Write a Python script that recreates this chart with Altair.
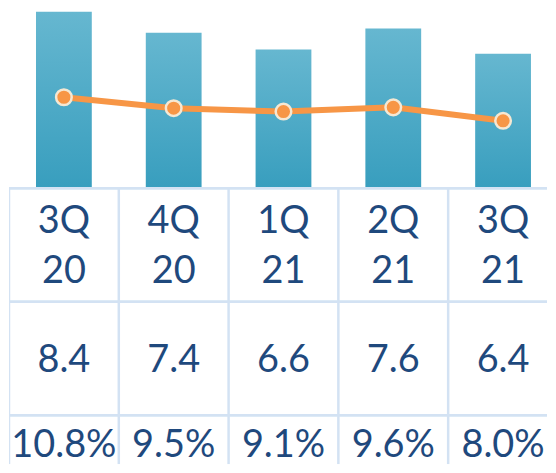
import altair as alt
import pandas as pd

# ---- data ----
quarters = ["3Q20", "4Q20", "1Q21", "2Q21", "3Q21"]
header_labels = ["3Q\n20", "4Q\n20", "1Q\n21", "2Q\n21", "3Q\n21"]
values = [8.4, 7.4, 6.6, 7.6, 6.4]
pct = [10.8, 9.5, 9.1, 9.6, 8.0]

df = pd.DataFrame({"q": quarters, "label": header_labels, "value": values, "pct": pct})

W = 540            # visible plot width (page body width)
XRANGE = [0, 551]  # five columns of ~110 px; the last one runs off the page edge
FONT = "Lato"
TXT = "#1f497d"
GRID = "#d3e2f3"


def xscale():
    return alt.Scale(paddingInner=0, paddingOuter=0, range=XRANGE)


xenc = alt.X("q:N", sort=quarters, axis=None, scale=xscale())

base = alt.Chart(df)

bar_grad = alt.Gradient(
    gradient="linear",
    stops=[alt.GradientStop(color="#66b7d0", offset=0),
           alt.GradientStop(color="#389ebe", offset=1)],
    x1=1, x2=1, y1=0, y2=1,
)

bars = base.mark_bar(size=56, color=bar_grad).encode(
    x=xenc,
    y=alt.Y("value:Q", axis=None, scale=alt.Scale(domain=[0, 8.54], nice=False)),
)

line = base.mark_line(color="#f79646", strokeWidth=6).encode(
    x=xenc,
    y=alt.Y("pct:Q", axis=None, scale=alt.Scale(domain=[0, 21.3], nice=False)),
)
points = base.mark_circle(size=245, color="#f79646", opacity=1,
                          stroke="#f5e8d3", strokeWidth=2.5).encode(
    x=xenc,
    y=alt.Y("pct:Q", axis=None, scale=alt.Scale(domain=[0, 21.3], nice=False)),
)

top = alt.layer(bars, alt.layer(line, points)).resolve_scale(y="independent").properties(
    width=W, height=180
)


def row(text_enc, h, dy=0, line_height=50):
    vrules = base.mark_rule(color=GRID, strokeWidth=2.5, clip=True).encode(
        x=alt.X("q:N", sort=quarters, axis=None, bandPosition=0, scale=xscale()),
    )
    hrule = base.mark_rule(color=GRID, strokeWidth=2).encode(y=alt.value(0))
    txt = base.mark_text(font=FONT, fontSize=38, color=TXT, baseline="middle",
                         align="center", lineBreak="\n", lineHeight=line_height,
                         dy=dy, clip=True).encode(x=xenc, text=text_enc)
    return alt.layer(vrules, hrule, txt).properties(width=W, height=h)


row1 = row(alt.Text("label:N"), 114, dy=-23)
row2 = row(alt.Text("value:Q", format=".1f"), 114, dy=2)
row3 = row(alt.Text("pct_label:N"), 49, dy=6.5).transform_calculate(
    pct_label="format(datum.pct, '.1f') + '%'"
)

chart = alt.vconcat(top, row1, row2, row3, spacing=0, bounds="flush").properties(
    padding=0
).configure_view(strokeWidth=0)

chart.save("out.html", embed_options={"renderer": "svg", "actions": False})
